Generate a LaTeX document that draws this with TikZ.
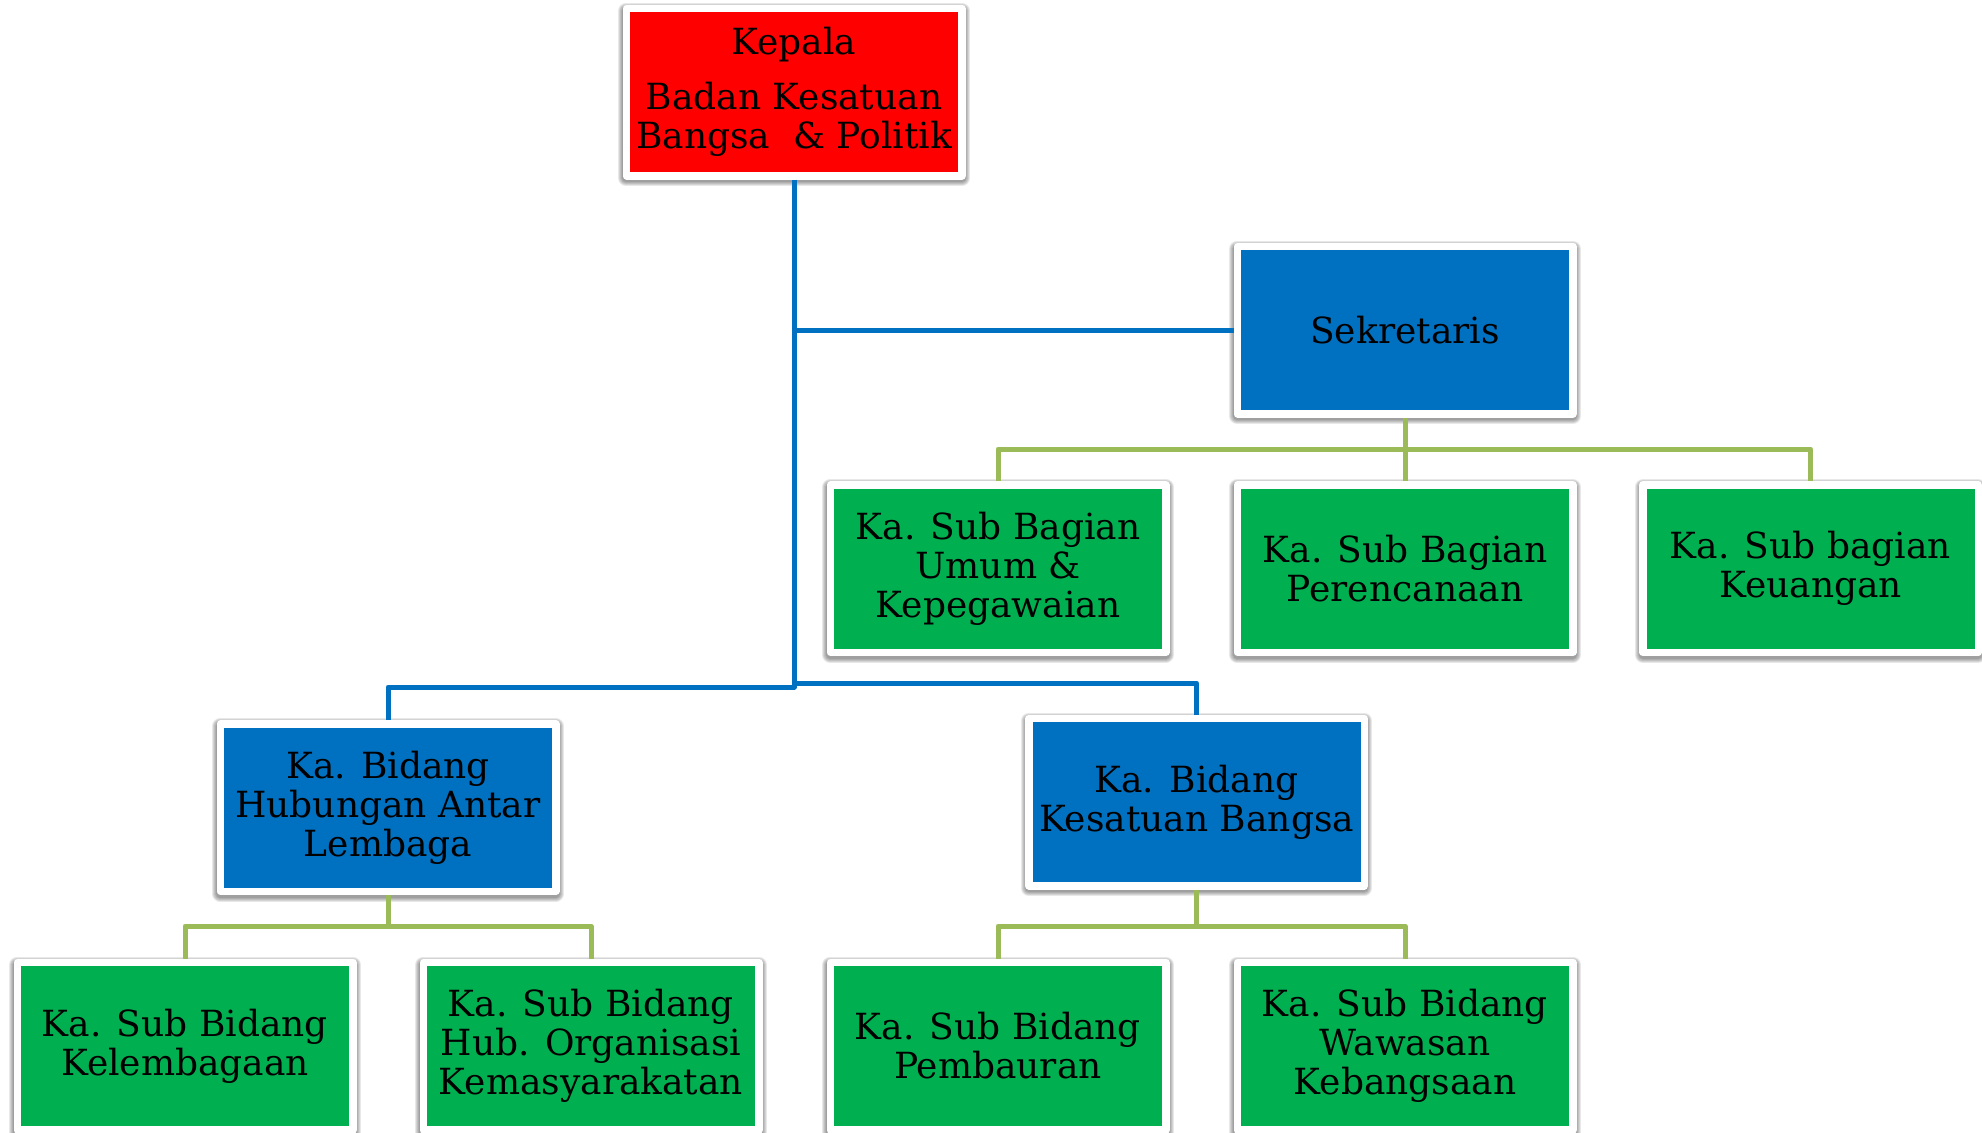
\documentclass[tikz,border=0pt]{standalone}
\usepackage{fontspec}
\setmainfont{DejaVu Serif}
\definecolor{cred}{HTML}{FF0000}
\definecolor{cblue}{HTML}{0070C0}
\definecolor{cgreen}{HTML}{00B050}
\definecolor{lgreen}{HTML}{9BBB59}
\definecolor{lblue}{HTML}{0070C0}
\tikzset{
  shadowlayer/.style={preaction={draw=black, fill=black, line join=round, line width=#1,
    opacity=0.09, transform canvas={yshift=-1.2pt}}},
  box/.style={rectangle, draw=white, line width=3.75pt, line join=round,
    minimum width=167.75pt, minimum height=83.75pt,
    inner sep=0pt, align=center, text=black, font=\fontsize{18pt}{19.5pt}\selectfont,
    shadowlayer=8pt, shadowlayer=7pt, shadowlayer=6pt, shadowlayer=5pt, shadowlayer=4.2pt},
  redbox/.style={box, fill=cred},
  bluebox/.style={box, fill=cblue},
  greenbox/.style={box, fill=cgreen},
  bline/.style={draw=lblue, line width=2.5pt, line join=round},
  gline/.style={draw=lgreen, line width=2.5pt, line join=round},
}
\begin{document}
\begin{tikzpicture}[x=0.5pt, y=-0.5pt]
\useasboundingbox (0,0) rectangle (1982,1132);

\node[redbox] (kep) at (794,92) {Kepala\\[8pt]Badan Kesatuan\\Bangsa~~\& Politik};
\node[bluebox] (sek) at (1405,330) {Sekretaris};
\node[greenbox] (g1) at (998,568.5) {Ka. Sub Bagian\\Umum \&\\Kepegawaian};
\node[greenbox] (g2) at (1405,568.5) {Ka. Sub Bagian\\Perencanaan};
\node[greenbox] (g3) at (1810.5,568.5) {Ka. Sub bagian\\Keuangan};
\node[bluebox] (hub) at (388,807.5) {Ka. Bidang\\Hubungan Antar\\Lembaga};
\node[bluebox] (kes) at (1196.5,802) {Ka. Bidang\\Kesatuan Bangsa};
\node[greenbox] (b1) at (185,1046) {Ka. Sub Bidang\\Kelembagaan};
\node[greenbox] (b2) at (591,1046) {Ka. Sub Bidang\\Hub. Organisasi\\Kemasyarakatan};
\node[greenbox] (b3) at (998,1046) {Ka. Sub Bidang\\Pembauran};
\node[greenbox] (b4) at (1405,1046) {Ka. Sub Bidang\\Wawasan\\Kebangsaan};

\coordinate (jl) at (kep.south |- 0,687);
\coordinate (jr) at (kep.south |- 0,683);
\coordinate (sj) at (sek.south |- 0,449);
\coordinate (hj) at (hub.south |- 0,926);
\coordinate (kj) at (kes.south |- 0,926);

% blue connectors
\draw[bline] (kep.south) -- (jl) -| (hub.north);
\draw[bline] (jr) -| (kes.north);
\draw[bline] (kep.south |- sek.west) -- (sek.west);
% green connectors
\draw[gline] (sek.south) -- (g2.north);
\draw[gline] (g1.north) |- (sj) -| (g3.north);
\draw[gline] (hub.south) -- (hj);
\draw[gline] (b1.north) |- (hj) -| (b2.north);
\draw[gline] (kes.south) -- (kj);
\draw[gline] (b3.north) |- (kj) -| (b4.north);
\end{tikzpicture}
\end{document}
